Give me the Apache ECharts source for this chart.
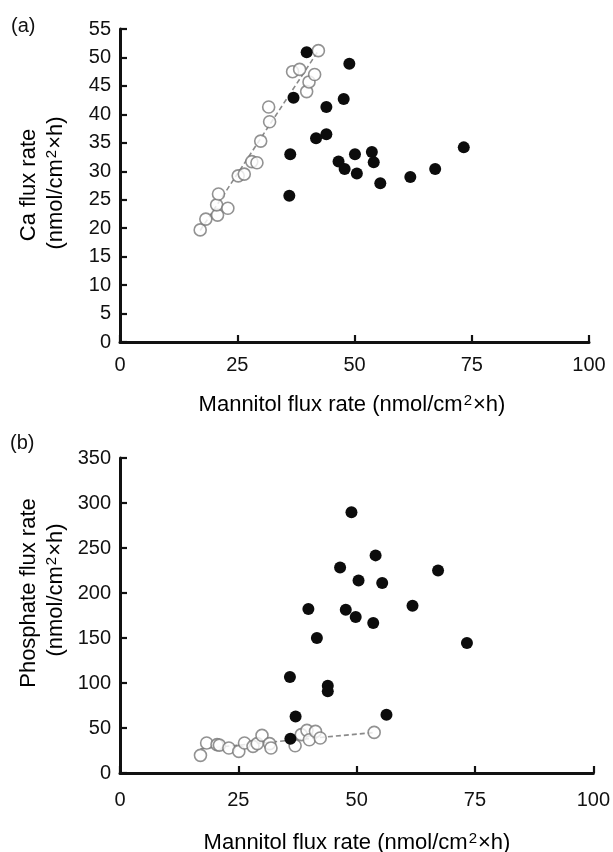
<!DOCTYPE html>
<html>
<head>
<meta charset="utf-8">
<script src="https://cdn.jsdelivr.net/npm/echarts@6/dist/echarts.min.js"></script>
<style>
html,body{margin:0;padding:0;background:#fff;}
#chart{width:613px;height:852px;}
</style>
</head>
<body>
<div id="chart"></div>
<script>
// ---------- Data ----------
var xTicks = [0, 25, 50, 75, 100];

// Panel (a): Ca flux vs mannitol flux
var openA_x = [17.1, 18.3, 20.8, 20.6, 21.0, 23.0, 25.2, 26.5, 28.1, 29.2, 30.0, 31.9, 31.7, 36.8, 38.3, 39.8, 40.3, 41.5, 42.3];
var openA_y = [19.7, 21.6, 22.3, 24.1, 26.0, 23.5, 29.2, 29.5, 31.7, 31.5, 35.3, 38.7, 41.3, 47.5, 47.9, 44.0, 45.7, 47.0, 51.2];
var filledA_x = [39.8, 37.0, 36.3, 36.1, 48.9, 47.7, 44.0, 44.0, 41.8, 46.6, 47.9, 50.1, 50.5, 53.7, 54.1, 55.5, 61.9, 67.2, 73.3];
var filledA_y = [50.9, 42.9, 33.0, 25.7, 48.9, 42.7, 41.3, 36.5, 35.8, 31.7, 30.4, 33.0, 29.6, 33.4, 31.6, 27.9, 29.0, 30.4, 34.2];
var fitA_x = [17.1, 42.3];
var fitA_y = [19.6, 51.2];

// Panel (b): phosphate flux vs mannitol flux
var openB_x = [17.0, 18.3, 20.5, 21.0, 23.0, 25.1, 26.3, 28.1, 29.0, 30.0, 31.6, 31.9, 37.0, 38.3, 39.5, 40.0, 41.3, 42.3, 53.7];
var openB_y = [19.6, 33.3, 31.5, 31.0, 27.8, 24.0, 33.3, 29.6, 32.6, 41.8, 32.6, 27.8, 30.3, 42.6, 47.4, 37.0, 46.3, 38.9, 45.1];
var filledB_x = [48.9, 46.5, 50.4, 39.8, 47.7, 49.8, 41.6, 35.9, 43.9, 43.9, 37.1, 36.0, 54.0, 55.4, 67.2, 53.5, 61.8, 73.3, 56.3];
var filledB_y = [289.6, 228.4, 214.0, 182.2, 181.4, 173.3, 150.0, 106.7, 97.0, 90.7, 62.9, 38.1, 241.8, 211.0, 225.1, 166.6, 185.9, 144.4, 64.8];
var fitB_x = [17.0, 53.7];
var fitB_y = [27.0, 45.0];

function pairs(xs, ys) { return xs.map(function (x, i) { return [x, ys[i]]; }); }

// ---------- Styles ----------
var FONT = "'Liberation Sans', Arial, sans-serif";
var INK = '#111111';
var axisLine = { show: true, lineStyle: { color: INK, width: 3 } };
var axisTick = { show: true, inside: true, length: 7, lineStyle: { color: INK, width: 2.2 } };

function xAxisCfg(grid, margin) {
  return {
    type: 'value', gridIndex: grid, min: 0, max: 100, interval: 25,
    axisLine: axisLine, axisTick: axisTick, splitLine: { show: false },
    axisLabel: { fontFamily: FONT, fontSize: 20, color: INK, margin: margin,
      formatter: function (v) { return xTicks.indexOf(v) >= 0 ? String(v) : ''; } }
  };
}
function yAxisCfg(grid, max, interval) {
  return {
    type: 'value', gridIndex: grid, min: 0, max: max, interval: interval,
    axisLine: axisLine, axisTick: axisTick, splitLine: { show: false },
    axisLabel: { fontFamily: FONT, fontSize: 20, color: INK, margin: 9 }
  };
}
function openSeries(idx, data) {
  return { type: 'scatter', xAxisIndex: idx, yAxisIndex: idx, data: data, symbol: 'circle', symbolSize: 12,
    itemStyle: { color: '#fff', borderColor: '#777777', borderWidth: 1.6 }, z: 3 };
}
function filledSeries(idx, data) {
  return { type: 'scatter', xAxisIndex: idx, yAxisIndex: idx, data: data, symbol: 'circle', symbolSize: 12,
    itemStyle: { color: '#0c0c0c', opacity: 1 }, z: 4 };
}
function fitSeries(idx, data) {
  return { type: 'line', xAxisIndex: idx, yAxisIndex: idx, data: data, showSymbol: false, symbol: 'none',
    lineStyle: { color: '#8a8a8a', width: 1.6, type: [5, 3] }, z: 2, silent: true };
}

var titleRich = {
  n: { fontFamily: FONT, fontSize: 22, color: INK, lineHeight: 27 },
  s: { fontFamily: FONT, fontSize: 15, color: INK, lineHeight: 27, padding: [0, 1, 9, 1] }
};
function txt(x, y, text, rot) {
  return { type: 'text', x: x, y: y, rotation: rot || 0,
    style: { text: text, rich: titleRich, align: 'center', verticalAlign: 'middle' } };
}
var unitText = '{n|(nmol/cm}{s|2}{n|×h)}';

var chart = echarts.init(document.getElementById('chart'), null, { renderer: 'canvas' });
chart.setOption({
  animation: false,
  backgroundColor: '#fff',
  grid: [
    { left: 120, right: 24, top: 29, height: 313 },
    { left: 120, right: 18, top: 458, height: 315 }
  ],
  xAxis: [xAxisCfg(0, 13), xAxisCfg(1, 17)],
  yAxis: [yAxisCfg(0, 55, 5), yAxisCfg(1, 350, 50)],
  series: [
    fitSeries(0, pairs(fitA_x, fitA_y)),
    openSeries(0, pairs(openA_x, openA_y)),
    filledSeries(0, pairs(filledA_x, filledA_y)),
    fitSeries(1, pairs(fitB_x, fitB_y)),
    openSeries(1, pairs(openB_x, openB_y)),
    filledSeries(1, pairs(filledB_x, filledB_y))
  ],
  graphic: [
    { type: 'text', left: 11, top: 16, style: { text: '(a)', fontFamily: FONT, fontSize: 20, fill: INK } },
    { type: 'text', left: 10, top: 433, style: { text: '(b)', fontFamily: FONT, fontSize: 20, fill: INK } },
    txt(29, 185, '{n|Ca flux rate}', Math.PI / 2),
    txt(56, 183, unitText, Math.PI / 2),
    txt(29, 593, '{n|Phosphate flux rate}', Math.PI / 2),
    txt(56, 590, unitText, Math.PI / 2),
    txt(352, 405, '{n|Mannitol flux rate }' + unitText),
    txt(357, 843, '{n|Mannitol flux rate }' + unitText)
  ]
});
</script>
</body>
</html>
